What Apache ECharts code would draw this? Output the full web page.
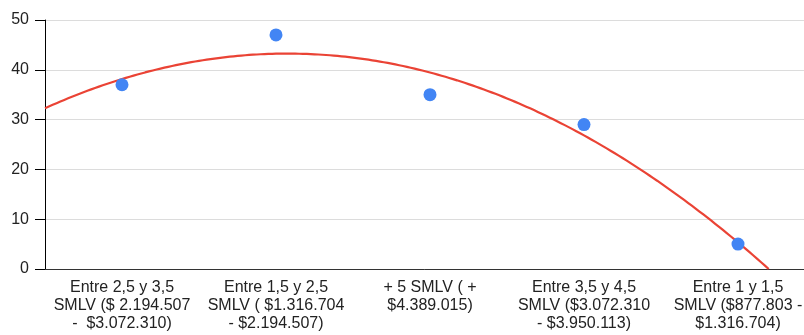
<!DOCTYPE html>
<html>
<head>
<meta charset="utf-8">
<script src="https://cdn.jsdelivr.net/npm/echarts@6/dist/echarts.min.js"></script>
<style>
  html, body { margin: 0; padding: 0; background: #fff; overflow: hidden; }
  #chart { width: 804px; height: 335px; }
</style>
</head>
<body>
<div id="chart"></div>
<script>
// Income ranges (category labels, already broken into lines)
const categories = [
  'Entre 2,5 y 3,5\nSMLV ($ 2.194.507\n-  $3.072.310)',
  'Entre 1,5 y 2,5\nSMLV ( $1.316.704\n- $2.194.507)',
  '+ 5 SMLV ( +\n$4.389.015)',
  'Entre 3,5 y 4,5\nSMLV ($3.072.310\n- $3.950.113)',
  'Entre 1 y 1,5\nSMLV ($877.803 -\n$1.316.704)'
];
// Count of responses per range
const counts = [37, 47, 35, 29, 5];
// Y axis ticks
const yTicks = [0, 10, 20, 30, 40, 50];

// Least-squares quadratic trend (x = category index)
function quadFit(ys) {
  const s = [0, 0, 0, 0, 0], t = [0, 0, 0];
  ys.forEach((y, i) => {
    for (let k = 0; k <= 4; k++) s[k] += Math.pow(i, k);
    for (let k = 0; k <= 2; k++) t[k] += Math.pow(i, k) * y;
  });
  const A = [[s[0], s[1], s[2], t[0]], [s[1], s[2], s[3], t[1]], [s[2], s[3], s[4], t[2]]];
  for (let c = 0; c < 3; c++) {
    for (let r = c + 1; r < 3; r++) {
      const f = A[r][c] / A[c][c];
      for (let k = c; k < 4; k++) A[r][k] -= f * A[c][k];
    }
  }
  const x = [0, 0, 0];
  for (let r = 2; r >= 0; r--) {
    let v = A[r][3];
    for (let k = r + 1; k < 3; k++) v -= A[r][k] * x[k];
    x[r] = v / A[r][r];
  }
  return x; // [a, b, c] for a + b x + c x^2
}
const coef = quadFit(counts);
const trend = [];
const xMin = -0.5, xMax = categories.length - 0.5;
for (let k = 0; k <= 200; k++) {
  const x = xMin + (xMax - xMin) * k / 200;
  const y = coef[0] + coef[1] * x + coef[2] * x * x;
  if (y < 0) {
    // stop where the curve meets the axis
    const disc = coef[1] * coef[1] - 4 * coef[2] * coef[0];
    const root = (-coef[1] - Math.sqrt(disc)) / (2 * coef[2]);
    trend.push([root, 0]);
    break;
  }
  trend.push([x, y]);
}

const FONT = 'Liberation Sans, Arial, sans-serif';
const chart = echarts.init(document.getElementById('chart'), null, { renderer: 'canvas' });
chart.setOption({
  animation: false,
  backgroundColor: '#ffffff',
  textStyle: { fontFamily: FONT },
  grid: { left: 45, width: 770, top: 20, bottom: 66, containLabel: false, outerBoundsMode: 'none' },
  xAxis: [
    {
      type: 'category',
      data: categories,
      boundaryGap: true,
      axisLine: { lineStyle: { color: '#333333', width: 1 } },
      axisTick: { show: false },
      axisLabel: {
        interval: 0,
        color: '#222222',
        fontSize: 16,
        lineHeight: 18,
        margin: 10,
        fontFamily: FONT
      },
      splitLine: { show: false }
    },
    {
      type: 'value',
      min: xMin,
      max: xMax,
      show: false
    }
  ],
  yAxis: {
    type: 'value',
    min: yTicks[0],
    max: yTicks[yTicks.length - 1],
    interval: 10,
    axisLine: { show: true, onZero: false, lineStyle: { color: '#000000', width: 1 } },
    axisTick: { show: true, length: 10, lineStyle: { color: '#000000', width: 1 } },
    axisLabel: { color: '#222222', fontSize: 16, margin: 16, fontFamily: FONT },
    splitLine: { lineStyle: { color: '#dcdcdc', width: 1 } }
  },
  series: [
    {
      type: 'line',
      xAxisIndex: 1,
      data: trend,
      showSymbol: false,
      smooth: false,
      lineStyle: { color: '#ea4335', width: 2.2 },
      z: 2
    },
    {
      type: 'scatter',
      xAxisIndex: 0,
      data: counts,
      symbolSize: 13,
      itemStyle: { color: '#4285f4', opacity: 1 },
      z: 3
    }
  ]
});
</script>
</body>
</html>
